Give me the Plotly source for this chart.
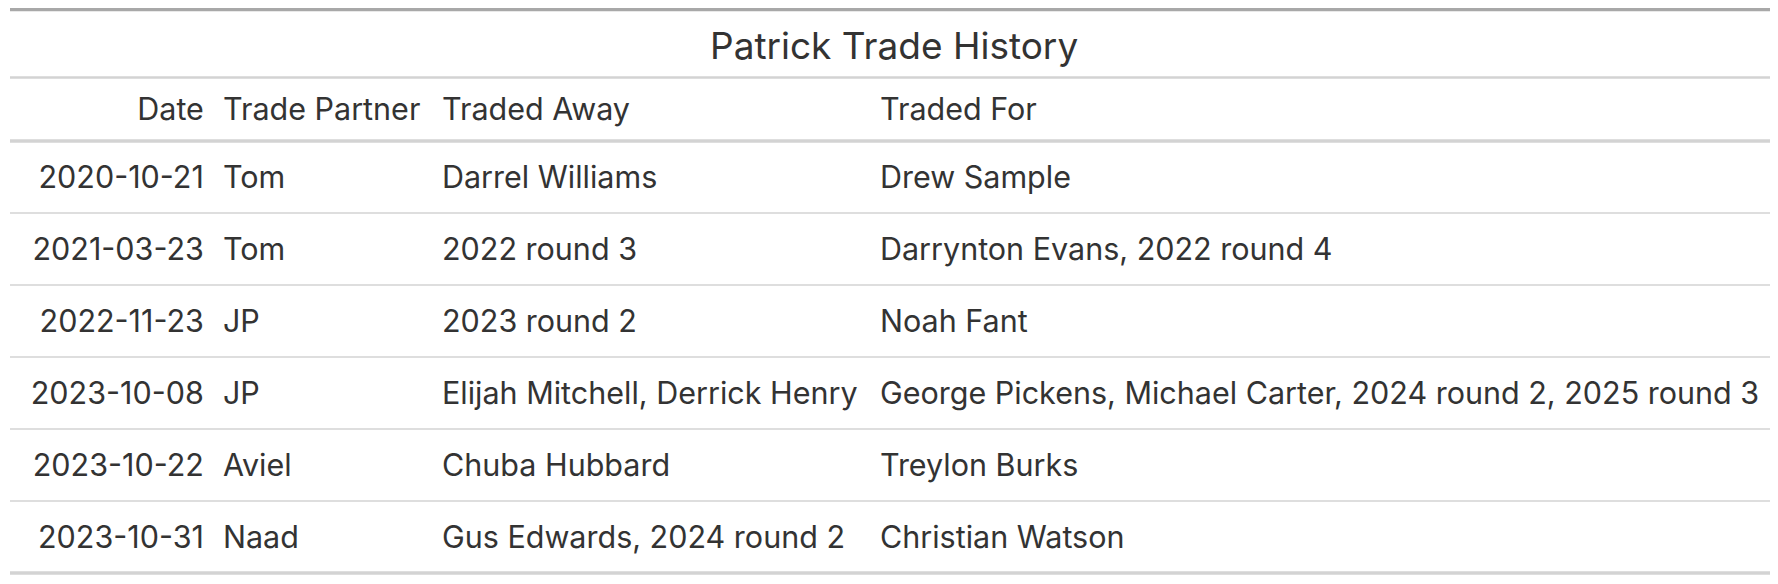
import plotly.graph_objects as go

# table content
title = "Patrick Trade History"
headers = ["Date", "Trade Partner", "Traded Away", "Traded For"]
dates = ["2020-10-21", "2021-03-23", "2022-11-23", "2023-10-08", "2023-10-22", "2023-10-31"]
partners = ["Tom", "Tom", "JP", "JP", "Aviel", "Naad"]
traded_away = ["Darrel Williams", "2022 round 3", "2023 round 2",
               "Elijah Mitchell, Derrick Henry", "Chuba Hubbard",
               "Gus Edwards, 2024 round 2"]
traded_for = ["Drew Sample", "Darrynton Evans, 2022 round 4", "Noah Fant",
              "George Pickens, Michael Carter, 2024 round 2, 2025 round 3",
              "Treylon Burks", "Christian Watson"]

W, H = 1778, 584
BODY_MARGIN = 8  # page body margin of the html
FONT = "Inter"
TXT = "#333333"
LIGHT = "#D3D3D3"
DARK = "#A8A8A8"

# layout in page pixels
left, right = 10, 1770
top_line = 9.5
title_line = 77.5
head_line = 141
row_h = 72
col_x = [203, 222, 440, 876]
col_anchor = ["middle left", "middle right", "middle right", "middle right"]
dy = 3  # nudge text down so caps sit centred

n = len(dates)
row_y = [head_line + row_h * (i + 0.5) + dy for i in range(n)]
columns = [dates, partners, traded_away, traded_for]

fig = go.Figure()
for j, vals in enumerate(columns):
    fig.add_trace(go.Scatter(
        x=[col_x[j]] * n, y=row_y, text=vals, mode="text",
        textposition=col_anchor[j],
        textfont=dict(family=FONT, size=30.5, color=TXT),
        hoverinfo="skip", showlegend=False,
    ))

# header row
head_y = (title_line + head_line) / 2 + dy
for j, h in enumerate(headers):
    fig.add_trace(go.Scatter(
        x=[col_x[j]], y=[head_y], text=[h], mode="text",
        textposition=col_anchor[j],
        textfont=dict(family=FONT, size=30.5, color=TXT),
        hoverinfo="skip", showlegend=False,
    ))

fig.add_annotation(x=(left + right) / 2, y=(top_line + title_line) / 2 + 1.5,
                   xref="x", yref="y", text=title, showarrow=False,
                   font=dict(family=FONT, size=37, color=TXT))

# horizontal rules
rules = [(top_line, DARK, 3.3), (title_line, LIGHT, 2.7), (head_line, LIGHT, 3.3)]
rules += [(head_line + row_h * (i + 1), LIGHT, 1.3) for i in range(n - 1)]
rules += [(head_line + row_h * n, LIGHT, 3.3)]
for yv, c, w in rules:
    fig.add_shape(type="line", xref="x", yref="y", x0=left, x1=right,
                  y0=yv, y1=yv, line=dict(color=c, width=w))

fig.update_xaxes(range=[left, right], visible=False, fixedrange=True)
fig.update_yaxes(range=[H, BODY_MARGIN], visible=False, fixedrange=True)
fig.update_layout(
    width=W - BODY_MARGIN, height=H - BODY_MARGIN,
    margin=dict(l=left - BODY_MARGIN, r=W - right - BODY_MARGIN, t=0, b=0),
    paper_bgcolor="white", plot_bgcolor="white",
)
fig.write_html("out.html")
